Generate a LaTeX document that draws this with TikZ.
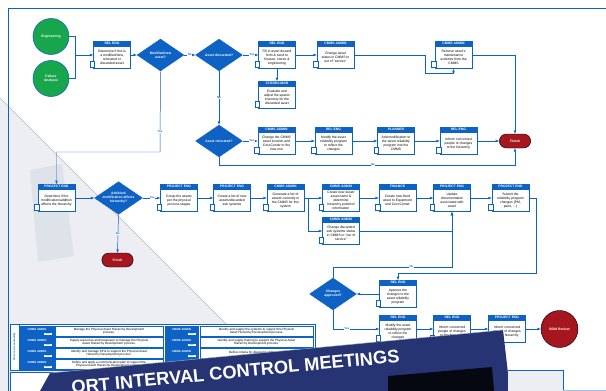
\documentclass[tikz,border=0pt]{standalone}
\usepackage{fontspec}
\setmainfont{Liberation Sans}
\usetikzlibrary{shapes.geometric,shapes.multipart,shapes.misc}
\definecolor{flowblue}{RGB}{14,98,196}
\definecolor{startgreen}{RGB}{24,166,76}
\definecolor{stopred}{RGB}{166,22,30}
\definecolor{navy}{RGB}{38,52,116}
\definecolor{paper}{RGB}{236,238,243}
\newcommand{\hd}[1]{\textcolor{white}{\bfseries\rule[-1pt]{0pt}{4.6pt}#1}}
\newcommand{\bx}[1]{\parbox[c][1.02cm][c]{1.78cm}{\centering #1}}
\tikzset{ task/.style = { rectangle split % task box with role header
        , rectangle split parts = 2
        , rectangle split part fill = {flowblue,white}
        , draw = flowblue
        , line width = 0.6pt
        , inner xsep = 1pt
        , inner ysep = 1pt
        , font = \fontsize{4.8}{5.6}\selectfont
        }
        , ask/.style = { diamond % decision
        , aspect = 1.47
        , draw = flowblue
        , fill = flowblue
        , minimum width = 2.35cm
        , minimum height = 1.6cm
        , inner sep = 0pt
        , align = center
        , text = white
        , font = \fontsize{4.8}{5.6}\selectfont\bfseries
        }
        , term/.style = { rounded rectangle % finish
        , draw = black
        , fill = stopred
        , line width = 0.6pt
        , minimum width = 1.8cm
        , minimum height = 0.7cm
        , text = white
        , font = \fontsize{4.8}{5.6}\selectfont\bfseries
        }
        , src/.style = { circle % start
        , draw = flowblue
        , fill = startgreen
        , line width = 0.8pt
        , minimum size = 1.8cm
        , align = center
        , text = white
        , font = \fontsize{4.8}{5.6}\selectfont\bfseries
        }
        , doc/.style = { rectangle % document icon
        , draw = flowblue
        , fill = white
        , line width = 0.4pt
        , minimum width = 0.22cm
        , minimum height = 0.32cm
        , inner sep = 0pt
        }
        }

\begin{document}
\begin{tikzpicture}[x=0.05cm, y=-0.05cm,
        edge_style/.style={draw=flowblue, line width=0.7pt, ->, >=latex},
        line_style/.style={draw=flowblue, line width=0.7pt},
        edge_node_style/.style={fill=white, inner sep=0.6pt, text=flowblue, font=\fontsize{4}{4}\selectfont\bfseries},
        role_style/.style={rectangle, fill=flowblue, draw=flowblue, line width=0.4pt, inner sep=0.5pt, minimum height=0.5cm, text height=3pt, text depth=4pt, text=white, font=\fontsize{4}{4}\selectfont\bfseries},
        code_style/.style={rectangle, fill=white, inner sep=0.4pt, minimum width=0.42cm, text=flowblue, font=\fontsize{2.6}{2.6}\selectfont},
        duty_style/.style={rectangle, fill=white, draw=flowblue, line width=0.4pt, inner sep=0.5pt, minimum height=0.5cm, align=center, font=\fontsize{4.4}{4.8}\selectfont}]
        \useasboundingbox (0,0) rectangle (606,391);
        \clip (0,0) rectangle (606,391);
        \fill [white] (0,0) rectangle (606,391);
        % background sheet
        \fill [paper] (0,98) -- (293,391) -- (0,391) -- cycle;
        \draw [gray!55, line width=0.6pt] (0,98) -- (293,391);
        \fill [flowblue!30!gray!40, opacity=0.3] (30,170) -- (62,164) -- (74,256) -- (38,262) -- cycle;
        \draw [flowblue, line width=1pt] (606,8) -- (8,8) -- (8,391);

        % accountability table
        \draw [flowblue, line width=0.6pt, fill=white] (10,324) rectangle (315,370);
        \node [rectangle, draw=flowblue, line width=0.4pt, minimum width=2.3cm, minimum height=0.42cm, rotate=90, text=flowblue, font=\fontsize{3.6}{3.6}\selectfont\bfseries] (pa) at (14.5,347) {Process Accountability};
        \foreach \i/\y/\a/\b in {1/331/{Manage the Physical Asset Hierarchy Development\\process.}/{Identify and supply the systems to support the Physical\\Asset Hierarchy Development process.},
                2/342/{Supply resources and manpower to manage the Physical\\Asset Hierarchy Development process.}/{Identify and supply training to support the Physical Asset\\Hierarchy Development process.},
                3/353/{Identify and manage KPIs to support the Physical Asset\\Hierarchy Development process.}/{Define criteria for disposing of the asset.},
                4/364/{Define and apply a communication plan to support the\\Physical Asset Hierarchy Development process.}/{Define}}
        {
            \node [role_style, minimum width=1.7cm] (ra\i) at (37,\y) {CMMS ADMIN};
            \node [code_style] (ka\i) at (48,\y+3.2) {A00\i};
            \node [duty_style, minimum width=5.4cm] (wa\i) at (109,\y) {\a};
            \node [role_style, minimum width=1.65cm] (rb\i) at (181.5,\y) {CMMS ADMIN};
            \node [code_style] (kb\i) at (192,\y+3.2) {B00\i};
            \node [duty_style, minimum width=5.65cm] (wb\i) at (256.5,\y) {\b};
        }
        \draw [flowblue, line width=0.6pt, fill=white] (10,372) rectangle (53,395);
        \draw [flowblue, line width=0.6pt, fill=white] (55,372) rectangle (123,395);
        \draw [flowblue, line width=0.6pt, fill=white] (125,372) rectangle (163,395);
        \draw [flowblue, line width=0.6pt, fill=white] (165,372) rectangle (313,395);

        % start and first row
        \node [src] (s1) at (51,36.5) {Engineering};
        \node [src] (s2) at (51,78.5) {Failure\\Analysis};
        \node [task] (t1) at (112,55) {\hd{REL ENG}\nodepart{two}\bx{Determine if this is\\a modified/new,\\relocated or\\discarded asset}};
        \node [ask] (d1) at (160.5,55) {Modified/new\\asset?};
        \node [ask] (d2) at (219,55) {Asset discarded?};
        \node [task] (t2) at (277,55) {\hd{REL ENG}\nodepart{two}\bx{Fill in asset discard\\form \& send to\\finance, stores \&\\engineering}};
        \node [task] (t3) at (277,95) {\hd{STORES MGR}\nodepart{two}\bx{Evaluate and\\adjust the spares\\inventory for the\\discarded asset}};
        \node [task] (t4) at (335.5,55) {\hd{CMMS ADMIN}\nodepart{two}\bx{Change asset\\status in CMMS to\\out of "service"}};
        \node [task] (t5) at (453.5,55) {\hd{CMMS ADMIN}\nodepart{two}\bx{Remove asset's\\maintenance\\activities from the\\CMMS}};
        \node [term] (f1) at (515,141) {Finish};

        % relocation row
        \node [ask] (d3) at (219,141) {Asset relocated?};
        \node [task] (t6) at (276.5,141) {\hd{CMMS ADMIN}\nodepart{two}\bx{Change the CMMS\\asset location and\\Cost Center to the\\new one}};
        \node [task] (t7) at (333.5,141) {\hd{REL ENG}\nodepart{two}\bx{Modify the asset\\reliability program\\to reflect the\\changes}};
        \node [task] (t8) at (396,141) {\hd{PLANNER}\nodepart{two}\bx{Add modification to\\the asset reliability\\program into the\\CMMS}};
        \node [task] (t9) at (458.5,141) {\hd{REL ENG}\nodepart{two}\bx{Inform concerned\\people of changes\\to the hierarchy}};

        % hierarchy row
        \node [task] (t10) at (56.5,198) {\hd{PROJECT ENG}\nodepart{two}\bx{Determine if the\\modification/addition\\affects the hierarchy}};
        \node [ask] (d4) at (118.5,198) {Addition/\\modification affects\\hierarchy?};
        \node [term] (f2) at (117.5,260) {Finish};
        \node [task] (t11) at (179,198) {\hd{PROJECT ENG}\nodepart{two}\bx{Group the assets\\per the physical\\process stages}};
        \node [task] (t12) at (232,198) {\hd{PROJECT ENG}\nodepart{two}\bx{Create a list of new\\assets/discarded\\sub systems}};
        \node [task] (t13) at (285.5,198) {\hd{CMMS ADMIN}\nodepart{two}\bx{Generate a list of\\assets currently in\\the CMMS for this\\system}};
        \node [task] (t14) at (341,198) {\hd{CMMS ADMIN}\nodepart{two}\bx{Create new asset/\\asset name \&\\determine\\hierarchy position/\\information}};
        \node [task] (t15) at (341,231) {\hd{CMMS ADMIN}\nodepart{two}\bx{Change discarded\\sub systems status\\in CMMS to "out of\\service"}};
        \node [task] (t16) at (397.5,198) {\hd{FINANCE}\nodepart{two}\bx{Create new fixed\\asset to Equipment\\and Cost Center}};
        \node [task] (t17) at (452,198) {\hd{PROJECT ENG}\nodepart{two}\bx{Update\\documentation\\associated with\\asset}};
        \node [task] (t18) at (510.5,198) {\hd{PROJECT ENG}\nodepart{two}\bx{Submit the\\reliability program\\changes (PM,\\parts, ...)}};

        % approval row
        \node [task] (t19) at (398,294) {\hd{REL ENG}\nodepart{two}\bx{Approve the\\changes to the\\asset reliability\\program}};
        \node [ask] (d5) at (333,294) {Changes\\approved?};
        \node [task] (t20) at (398,329) {\hd{REL ENG}\nodepart{two}\bx{Modify the asset\\reliability program\\to reflect the\\changes}};
        \node [task] (t21) at (452,329) {\hd{REL ENG}\nodepart{two}\bx{Inform concerned\\people of changes\\to the hierarchy}};
        \node [task] (t22) at (507,329) {\hd{PROJECT ENG}\nodepart{two}\bx{Inform concerned\\people of changes\\to the hierarchy}};
        \node [circle, draw=black, fill=stopred, line width=0.6pt, minimum size=1.85cm, text=white, font=\fontsize{4.8}{5.6}\selectfont\bfseries] (b1) at (559.5,329) {BOM Review};

        \foreach \b in {1,...,22}
            \node [doc] (ic\b) at ([shift={(-1,-4.5)}]t\b.south west) {};

        \coordinate (j1) at (75,55);
        \coordinate (c1) at (425,73);
        \coordinate (c2) at (219,165);
        \coordinate (c3) at (160,152);
        \coordinate (c4) at (308,198);
        \coordinate (c5) at (536,273);
        \coordinate (c6) at (452,267);

        \draw [line_style] (s1.east) -| (j1);
        \draw [line_style] (s2.east) -| (j1);
        \draw [edge_style] (j1) -- (t1.west);
        \draw [edge_style] (t1.east) -- (d1.west);
        \draw [edge_style] (d1.east) -- node [edge_node_style] {No} (d2.west);
        \draw [edge_style] (d2.east) -- node [edge_node_style, pos=0.6] {Yes} (t2.west);
        \draw [edge_style] (t2.south) -- (t3.north);
        \draw [edge_style] (t2.east) -- (t4.west);
        \draw [edge_style] (t4.east) -| (c1) -| (t5.south);
        \draw [edge_style] (t5.east) -| (f1.north);
        \draw [edge_style] (d2.south) -- node [edge_node_style] {No} (d3.north);
        \draw [edge_style] (d3.east) -- node [edge_node_style, pos=0.6] {Yes} (t6.west);
        \draw [edge_style] (t6.east) -- (t7.west);
        \draw [edge_style] (t7.east) -- (t8.west);
        \draw [edge_style] (t8.east) -- (t9.west);
        \draw [edge_style] (t9.east) -- (f1.west);
        \draw [edge_style] (d3.south) -- (c2) -| node [edge_node_style, pos=0.26] {No} (f1.south);
        \draw [edge_style] (d1.south) -- node [edge_node_style, pos=0.75] {Yes} (c3) -| (t10.north);
        \draw [edge_style] (t10.east) -- (d4.west);
        \draw [edge_style] (d4.east) -- node [edge_node_style, pos=0.55] {Yes} (t11.west);
        \draw [edge_style] (d4.south) -- node [edge_node_style] {No} (f2.north);
        \draw [edge_style] (t11.east) -- (t12.west);
        \draw [edge_style] (t12.east) -- (t13.west);
        \draw [edge_style] (t13.east) -- (t14.west);
        \draw [edge_style] (c4) |- (t15.west);
        \draw [edge_style] (t14.east) -- (t16.west);
        \draw [edge_style] (t16.east) -- (t17.west);
        \draw [edge_style] (t17.east) -- (t18.west);
        \draw [edge_style] (t15.east) -| (t17.south);
        \draw [edge_style] (t18.east) -| (c5) -| (t19.north);
        \draw [edge_style] (t19.west) -- (d5.east);
        \draw [edge_style] (d5.north) |- node [edge_node_style, pos=0.83] {No} (c6) -- (t17.south);
        \draw [edge_style] (d5.south) |- node [edge_node_style, pos=0.65] {Yes} (t20.west);
        \draw [edge_style] (t20.east) -- (t21.west);
        \draw [edge_style] (t21.east) -- (t22.west);
        \draw [edge_style] (t22.east) -- (b1.west);

        % brochure banner
        \fill [navy] (40,391) -- (50,373) -- (503,330) -- (510,391) -- cycle;
        \draw [white!60!navy, line width=0.6pt] (50,373) -- (503,330);
        \fill [black!85!navy] (388,376) -- (492,367) -- (494,391) -- (388,391) -- cycle;
        \node [anchor=base, rotate=5.5, text=white, font=\fontsize{26}{26}\selectfont\bfseries] (bt) at (236,378) {ORT INTERVAL CONTROL MEETINGS};
        \fill [paper] (508,370) rectangle (563,391);
        \draw [flowblue, line width=0.8pt] (508,370) -- (563,370) -- (563,391);
        \draw [flowblue!40, line width=0.8pt] (563,390) -- (606,390);
\end{tikzpicture}
\end{document}
